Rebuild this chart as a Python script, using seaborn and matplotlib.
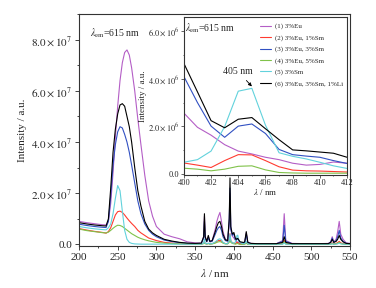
import numpy as np
import pandas as pd
import matplotlib
matplotlib.use('Agg')
import matplotlib.pyplot as plt
import seaborn as sns
from matplotlib.ticker import MultipleLocator, FuncFormatter

# wavelength grid (nm)
wl = [200, 210, 220, 230, 235, 238, 241, 244, 247, 250, 253, 256, 259, 262, 265, 268, 272, 276, 280, 285,
      290, 295, 300, 310, 320, 330, 340, 350,
      358, 361, 362, 363, 365, 367, 369, 372, 376, 378, 380, 382, 384, 386, 389, 392, 394, 395, 396, 398,
      400, 401, 402, 403, 404, 405, 406, 407, 408, 409, 410, 411, 412,
      414, 416, 418, 422, 430, 440, 455, 463, 465, 467, 475, 490, 510, 522, 525, 527, 529, 532, 534, 536,
      538, 541, 545, 550]

# intensities in units of 1e6
eu3 = [9.0, 8.5, 8.1, 7.7, 7.6, 9.0, 16, 28, 42, 54, 64, 71, 75, 76, 74, 69, 60, 49, 39, 27,
       17, 11, 7.0, 4.0, 3.0, 2.2, 1.0, 0.6,
       0.5, 3, 11, 3, 1.2, 3, 1.2, 1.5, 6, 9, 11, 12.5, 9, 5, 2, 1.5, 8, 20, 6, 3.2,
       2.56, 1.96, 1.63, 1.23, 0.96, 0.84, 0.70, 0.60, 0.45, 0.37, 0.40, 0.50, 0.45,
       0.8, 4.5, 0.8, 0.4, 0.3, 0.3, 0.3, 1.5, 12, 1.5, 0.4, 0.3, 0.3, 0.4, 1.0, 3, 1.0, 2, 5, 9,
       4, 2, 0.6, 0.4]
eu3_sm1 = [6.2, 5.6, 5.1, 4.7, 4.4, 5.0, 6.5, 9, 11.5, 12.8, 13, 12.5, 11.5, 10.3, 9.2, 8.2, 7, 5.5, 4.5, 3.5,
           2.5, 2.0, 1.5, 0.8, 0.5, 0.3, 0.2, 0.15,
           0.1, 0.5, 1.2, 0.4, 0.2, 0.4, 0.2, 0.3, 0.8, 1.2, 1.5, 1.6, 1.3, 0.7, 0.3, 0.3, 1.5, 4.2, 1.5, 0.6,
           0.46, 0.37, 0.27, 0.56, 0.81, 0.80, 0.56, 0.30, 0.16, 0.13, 0.12, 0.10, 0.08,
           0.2, 0.7, 0.1, 0.08, 0.05, 0.05, 0.05, 0.3, 1.6, 0.3, 0.05, 0.05, 0.05, 0.05, 0.2, 0.6, 0.2, 0.4, 0.7, 1.2,
           0.6, 0.3, 0.1, 0.05]
eu3_sm3 = [7.9, 7.4, 7.0, 6.7, 6.6, 9, 19, 31, 39, 44, 46, 45.5, 43, 40, 36, 31, 24, 17, 12, 8,
           5.5, 4, 3, 1.7, 1.1, 0.7, 0.4, 0.3,
           0.4, 2.5, 9, 2.5, 1, 2.5, 1, 1.2, 4, 5.5, 6.5, 7, 5.5, 3, 1.5, 1.2, 9, 22, 6, 3.5,
           4.1, 3.0, 2.01, 1.54, 2.01, 2.10, 1.70, 1.03, 0.81, 0.75, 0.70, 0.56, 0.44,
           0.8, 4, 0.7, 0.3, 0.25, 0.25, 0.25, 1.2, 7.5, 1.2, 0.3, 0.25, 0.25, 0.3, 0.8, 2.5, 0.8, 1.5, 3, 5.5,
           2.5, 1.2, 0.4, 0.3]
eu3_sm5 = [6.0, 5.4, 5.0, 4.6, 4.5, 4.8, 5.5, 6.3, 7.0, 7.5, 7.4, 7.0, 6.3, 5.6, 4.9, 4.2, 3.5, 2.8, 2.3, 1.8,
           1.4, 1.1, 0.8, 0.5, 0.3, 0.2, 0.15, 0.1,
           0.1, 0.3, 0.7, 0.3, 0.1, 0.3, 0.1, 0.2, 0.5, 0.8, 1.0, 1.1, 0.9, 0.5, 0.2, 0.2, 0.8, 2.0, 0.8, 0.4,
           0.24, 0.20, 0.13, 0.20, 0.32, 0.34, 0.17, 0.06, 0.04, 0.03, 0.03, 0.03, 0.03,
           0.1, 0.4, 0.05, 0.03, 0.03, 0.03, 0.03, 0.2, 1.0, 0.2, 0.03, 0.03, 0.03, 0.03, 0.1, 0.3, 0.1, 0.2, 0.4, 0.8,
           0.3, 0.1, 0.05, 0.03]
sm3 = [7.0, 6.5, 6.1, 5.8, 5.7, 6.5, 8, 12, 18, 23, 21, 13, 5.5, 2.0, 0.8, 0.4, 0.2, 0.15, 0.1, 0.1,
       0.1, 0.1, 0.1, 0.1, 0.1, 0.1, 0.1, 0.1,
       0.1, 0.5, 2, 0.5, 0.2, 0.5, 0.2, 0.3, 1, 1.5, 2, 2.2, 1.8, 0.8, 0.3, 0.3, 1.5, 4, 1.5, 0.6,
       0.49, 0.60, 0.96, 1.99, 3.48, 3.60, 2.05, 0.89, 0.74, 0.63, 0.49, 0.34, 0.23,
       0.3, 1.2, 0.2, 0.1, 0.1, 0.1, 0.1, 0.1, 0.6, 0.1, 0.1, 0.1, 0.1, 0.1, 0.1, 0.2, 0.1, 0.1, 0.2, 0.5,
       0.2, 0.1, 0.1, 0.1]
eu3_sm3_li1 = [8.5, 8.0, 7.6, 7.3, 7.2, 10, 22, 36, 45, 51, 54.5, 55, 54, 50, 46, 40, 30, 21, 15, 9,
               6, 4.5, 3.5, 2.0, 1.3, 0.8, 0.5, 0.4,
               0.5, 3, 12, 3, 1.2, 3.5, 1.2, 1.5, 5, 7, 8.5, 9, 7, 4, 1.8, 1.5, 10, 26, 7, 4,
               4.65, 3.45, 2.24, 1.94, 2.30, 2.37, 1.90, 1.44, 1.01, 0.97, 0.92, 0.87, 0.70,
               1.0, 5.0, 0.8, 0.4, 0.3, 0.3, 0.3, 0.8, 3, 0.8, 0.3, 0.3, 0.3, 0.3, 0.8, 2, 0.8, 1.2, 2, 3.5,
               2, 1, 0.4, 0.3]

labels = ['(1) 3%Eu', '(2) 3%Eu, 1%Sm', '(3) 3%Eu, 3%Sm', '(4) 3%Eu, 5%Sm',
          '(5) 3%Sm', '(6) 3%Eu, 3%Sm, 1%Li']
series = [eu3, eu3_sm1, eu3_sm3, eu3_sm5, sm3, eu3_sm3_li1]
colors = ['#b45ec6', '#ff3b30', '#3150c2', '#80c24a', '#62d2dc', '#000000']

frames = []
for lab, vals in zip(labels, series):
    frames.append(pd.DataFrame({'wl': wl, 'I': np.array(vals) * 1e6, 'sample': lab}))
df = pd.concat(frames, ignore_index=True)

sns.set_style('ticks')
plt.rcParams['font.family'] = ['Liberation Serif', 'DejaVu Serif']
plt.rcParams['mathtext.fontset'] = 'stix'


def sci(v, pos):
    if abs(v) < 1e-9:
        return '0.0'
    e = int(np.floor(np.log10(abs(v))))
    return r'$%.1f\times10^{%d}$' % (v / 10 ** e, e)


fig = plt.figure(figsize=(3.76, 2.88), dpi=100)

# main plot
ax = fig.add_axes([0.210, 0.146, 0.721, 0.805])
sns.lineplot(data=df, x='wl', y='I', hue='sample', hue_order=labels, palette=colors,
             estimator=None, sort=False, lw=0.8, legend=False, ax=ax)
ax.set_xlim(200, 550)
ax.set_ylim(-6e5, 9e7)
ax.xaxis.set_major_locator(MultipleLocator(50))
ax.xaxis.set_minor_locator(MultipleLocator(25))
ax.yaxis.set_major_locator(MultipleLocator(2e7))
ax.yaxis.set_minor_locator(MultipleLocator(1e7))
ax.yaxis.set_major_formatter(FuncFormatter(sci))
ax.tick_params(which='major', length=3, width=0.6, labelsize=8, pad=2)
ax.tick_params(which='minor', length=1.5, width=0.6)
ax.set_xlabel(r'$\lambda$ / nm', fontsize=8, labelpad=4)
ax.set_ylabel('Intensity / a.u.', fontsize=8, labelpad=3)
ax.text(0.04, 0.918, r'$\lambda_{\rm em}$=615 nm', transform=ax.transAxes, fontsize=7, va='center')
for s in ax.spines.values():
    s.set_linewidth(0.8)
    s.set_color('#333333')

# inset
axin = fig.add_axes([0.489, 0.392, 0.434, 0.549])
sub = df[(df.wl >= 400) & (df.wl <= 412)]
sns.lineplot(data=sub, x='wl', y='I', hue='sample', hue_order=labels, palette=colors,
             estimator=None, sort=False, lw=0.8, ax=axin)
axin.set_xlim(400, 412)
axin.set_ylim(-5e4, 6.6e6)
axin.xaxis.set_major_locator(MultipleLocator(2))
axin.xaxis.set_minor_locator(MultipleLocator(1))
axin.yaxis.set_major_locator(MultipleLocator(2e6))
axin.yaxis.set_minor_locator(MultipleLocator(1e6))
axin.yaxis.set_major_formatter(FuncFormatter(sci))
axin.tick_params(which='major', length=2, width=0.5, labelsize=6, pad=1)
axin.tick_params(which='minor', length=1, width=0.5)
axin.set_xlabel(r'$\lambda$ / nm', fontsize=6.5, labelpad=0)
axin.set_ylabel('Intensity / a.u.', fontsize=6.5, labelpad=1)
axin.text(0.01, 0.93, r'$\lambda_{\rm em}$=615 nm', transform=axin.transAxes, fontsize=7, va='center')
axin.annotate('405 nm', xy=(405, 3.68e6), xytext=(404.0, 4.3e6), ha='center', va='center', fontsize=7,
              arrowprops=dict(arrowstyle='-|>', lw=0.6, color='k', mutation_scale=5, shrinkA=1, shrinkB=0))
h, l = axin.get_legend_handles_labels()
axin.legend(h, l, loc='upper left', bbox_to_anchor=(0.43, 1.0), frameon=False, fontsize=5,
            handlelength=1.6, handletextpad=0.5, labelspacing=0.75, borderpad=0.4)
for s in axin.spines.values():
    s.set_linewidth(0.8)
    s.set_color('#333333')

fig.savefig('out.png', dpi=100)
